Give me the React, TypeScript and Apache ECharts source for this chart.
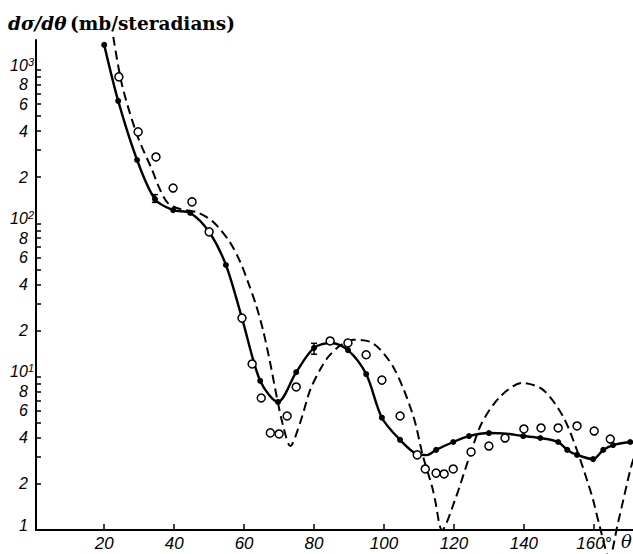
import { useEffect, useRef } from 'react';
import * as echarts from 'echarts';

const X_TICKS = [20, 40, 60, 80, 100, 120, 140, 160];
const Y_TICKS = [1, 2, 3, 4, 5, 6, 7, 8, 9, 10, 20, 30, 40, 50, 60, 70, 80, 90, 100, 200, 300, 400, 500, 600, 700, 800, 900, 1000];
const Y_LABELS_MINOR = [2, 4, 6, 8, 20, 40, 60, 80, 200, 400, 600, 800];
const Y_LABELS_DECADE = [1, 10, 100, 1000];

// solid curve through filled points (dot = 1 means a marked point)
const solidTheta = [20, 24.0, 29.4, 34.5, 39.7, 44.6, 50, 54.8, 59.4, 64.6, 69.7, 74.9, 80, 84.9, 89.7, 94.9, 99.4, 104.6, 109.5, 112.3, 114.9, 119.8, 124.3, 130, 135, 139.8, 144.7, 149.8, 152.4, 155.2, 159.8, 162.7, 165.5, 170.4];
const solidValue = [1459, 629, 259, 144, 122, 117, 88, 53.5, 24.1, 9.4, 6.84, 10.7, 15.4, 16.6, 14.9, 10.4, 5.4, 3.87, 3.12, 3.08, 3.33, 3.75, 4.1, 4.29, 4.25, 4.1, 3.98, 3.75, 3.33, 3.09, 2.9, 3.33, 3.58, 3.75];
const solidDot = [1, 1, 1, 1, 1, 1, 0, 1, 0, 1, 1, 1, 1, 0, 1, 1, 1, 1, 0, 0, 1, 1, 1, 1, 0, 1, 1, 1, 1, 1, 1, 1, 1, 1];

// dashed theoretical curve
const dashTheta = [22.6, 25.1, 29.4, 33.7, 36, 38.3, 41.7, 46.6, 51.2, 55.9, 58.9, 61.1, 63.4, 65.4, 67.4, 69.4, 71.1, 73.2, 76.0, 78.9, 81.7, 84.0, 87.4, 91.2, 96.9, 102.8, 108.3, 111.2, 113.8, 114.6, 116.6, 120.3, 124.6, 128, 133.2, 139.5, 145.5, 151.2, 155.2, 158.4, 159.8, 161.8, 164.4, 166.9, 170.4, 171.5];
const dashValue = [1644, 800, 377, 223, 165, 135, 124, 118, 102, 75.6, 56, 41.5, 29.4, 20.2, 12.5, 7.27, 4.84, 3.53, 4.99, 8.19, 11.1, 13.4, 15.9, 17.4, 16.5, 11.4, 5.6, 3.0, 1.9, 1.57, 1.0, 1.57, 3.09, 5.0, 7.4, 9.1, 8.2, 5.5, 3.3, 2.0, 1.57, 1.03, 0.66, 1.11, 2.46, 3.0];

// open circles
const openTheta = [24.2, 29.7, 34.8, 39.7, 45.1, 50, 59.4, 62.3, 64.9, 67.5, 70, 72.3, 74.9, 84.6, 89.7, 94.9, 99.4, 104.6, 109.5, 111.8, 114.9, 117.2, 119.8, 124.9, 130, 134.6, 140, 144.9, 149.8, 155.2, 160.1, 164.7];
const openValue = [902, 395, 271, 170, 138, 88, 24.1, 12.1, 7.26, 4.3, 4.23, 5.54, 8.57, 17.1, 16.6, 13.9, 9.5, 5.54, 3.09, 2.5, 2.35, 2.32, 2.5, 3.23, 3.53, 3.98, 4.56, 4.63, 4.63, 4.77, 4.42, 3.92];

// error bars
const errTheta = [34.5, 80];
const errLow = [137, 14.0];
const errHigh = [154, 16.5];

function mantissa(v: number): number {
  const e = Math.floor(Math.log10(v) + 1e-9);
  return Math.round(v / Math.pow(10, e));
}
function exponent(v: number): number {
  return Math.round(Math.log10(v));
}

export default function App() {
  const ref = useRef<HTMLDivElement>(null);
  useEffect(() => {
    if (!ref.current) return;
    const chart = echarts.init(ref.current, undefined, { renderer: 'svg' });
    const base = { fontFamily: 'Liberation Sans', fontStyle: 'italic' as const, color: '#000' };
    const yBase = { ...base, fontSize: 16, lineHeight: 14 };
    const yCommon = {
      type: 'log' as const,
      logBase: 10,
      min: 1,
      max: 1570,
      position: 'left' as const,
      offset: 0,
      splitLine: { show: false },
      minorTick: { show: false },
    };
    chart.setOption({
      animation: false,
      backgroundColor: '#fff',
      grid: { left: 36, right: 0, top: 40, bottom: 24 },
      xAxis: {
        type: 'value',
        min: 0.5,
        max: 171.2,
        axisLine: { onZero: false, lineStyle: { color: '#000', width: 2 } },
        axisTick: { inside: true, length: 6, lineStyle: { color: '#000', width: 1.5 }, customValues: X_TICKS },
        axisLabel: {
          ...base,
          fontSize: 17,
          margin: 5,
          customValues: X_TICKS,
          formatter: (v: number) => (v === 160 ? '160°' : String(v)),
        },
        splitLine: { show: false },
      },
      yAxis: [
        {
          ...yCommon,
          axisLine: { show: true, onZero: false, lineStyle: { color: '#000', width: 2 } },
          axisTick: { show: true, inside: true, length: 5, lineStyle: { color: '#000', width: 1.5 }, customValues: Y_TICKS },
          axisLabel: {
            ...yBase,
            margin: 2,
            customValues: Y_LABELS_MINOR,
            formatter: (v: number) => '{m|' + mantissa(v) + '}',
            rich: { m: { ...yBase, padding: [0, 6, 0, 0] } },
          },
        },
        {
          ...yCommon,
          axisLine: { show: false },
          axisTick: { show: false },
          axisLabel: {
            ...yBase,
            margin: 2,
            padding: [0, 0, 10, 0],
            customValues: Y_LABELS_DECADE,
            formatter: (v: number) => {
              const e = exponent(v);
              if (e === 0) return '{one|1}';
              return '{b|10}{s|' + e + '}';
            },
            rich: {
              one: { ...yBase, padding: [0, 6, 0, 0] },
              b: { ...base, fontSize: 16, lineHeight: 18 },
              s: { ...base, fontSize: 11, lineHeight: 10, verticalAlign: 'top' },
            },
          },
        },
      ],
      graphic: [
        {
          type: 'text',
          left: 8,
          top: 14,
          style: {
            text: '{i|dσ/dθ} {r|(mb/steradians)}',
            rich: {
              i: { fontFamily: 'DejaVu Serif', fontStyle: 'italic', fontWeight: 'bold', fontSize: 18.5, fill: '#000' },
              r: { fontFamily: 'DejaVu Serif', fontWeight: 'bold', fontSize: 18.5, fill: '#000' },
            },
          },
        },
        {
          type: 'text',
          left: 621,
          top: 532,
          style: { text: 'θ', font: 'italic 18px "DejaVu Serif"', fill: '#000' },
        },
      ],
      series: [
        {
          type: 'line',
          yAxisIndex: 0,
          data: dashTheta.map((t, i) => [t, dashValue[i]]),
          smooth: 0.3,
          symbol: 'none',
          clip: false,
          lineStyle: { color: '#000', width: 2, type: [9, 5] },
          z: 2,
        },
        {
          type: 'line',
          yAxisIndex: 0,
          data: solidTheta.map((t, i) => ({
            value: [t, solidValue[i]],
            symbol: solidDot[i] ? 'circle' : 'none',
          })),
          smooth: 0.3,
          showAllSymbol: true,
          symbolSize: 6,
          itemStyle: { color: '#000' },
          lineStyle: { color: '#000', width: 2.4 },
          z: 3,
        },
        {
          type: 'scatter',
          yAxisIndex: 0,
          data: openTheta.map((t, i) => [t, openValue[i]]),
          symbol: 'circle',
          symbolSize: 8,
          itemStyle: { color: '#fff', borderColor: '#000', borderWidth: 1.5, opacity: 1 },
          z: 4,
        },
        {
          type: 'custom',
          yAxisIndex: 0,
          data: errTheta.map((t, i) => [t, errLow[i], errHigh[i]]),
          encode: { x: 0, y: [1, 2] },
          z: 5,
          renderItem: (_params: any, api: any) => {
            const x = api.value(0);
            const p1 = api.coord([x, api.value(1)]);
            const p2 = api.coord([x, api.value(2)]);
            const st = { stroke: '#000', lineWidth: 1.5 };
            return {
              type: 'group',
              children: [
                { type: 'line', shape: { x1: p1[0], y1: p1[1], x2: p2[0], y2: p2[1] }, style: st },
                { type: 'line', shape: { x1: p1[0] - 3, y1: p1[1], x2: p1[0] + 3, y2: p1[1] }, style: st },
                { type: 'line', shape: { x1: p2[0] - 3, y1: p2[1], x2: p2[0] + 3, y2: p2[1] }, style: st },
              ],
            };
          },
        },
      ],
    });
    return () => chart.dispose();
  }, []);
  return <div ref={ref} style={{ position: 'fixed', left: 0, top: 0, width: 633, height: 554 }} />;
}
